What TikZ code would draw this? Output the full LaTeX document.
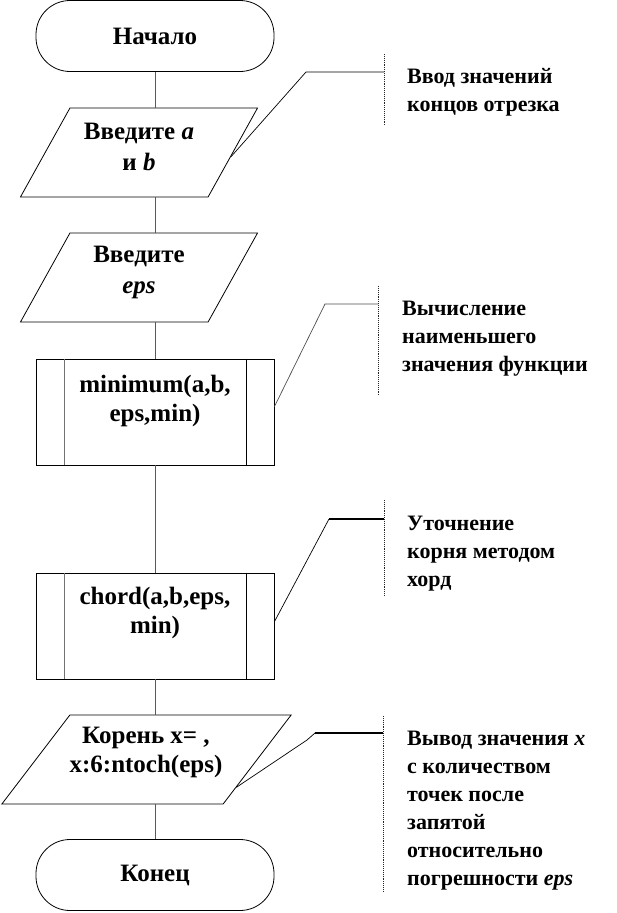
\documentclass[tikz,border=0pt]{standalone}
\usepackage{fontspec}
\setmainfont{Liberation Serif}
\usetikzlibrary{shapes.geometric,calc}
\tikzset{
	blk/.style={draw, line width=0.8pt, font=\fontsize{25}{29}\selectfont\bfseries, align=center, inner sep=0pt},
	txt/.style={blk, draw=none},
	term/.style={blk, rounded corners=34pt, minimum width=238pt, minimum height=71pt},
	io/.style={blk, trapezium, trapezium stretches=true, minimum height=89pt},
	proc/.style={blk, rectangle, minimum width=238pt, minimum height=106pt},
	link/.style={line width=0.9pt, black!65},
	brace/.style={line width=0.9pt, black!85, densely dotted},
	lead/.style={line width=0.7pt},
	note/.style={font=\fontsize{22}{28}\selectfont\bfseries, align=left, anchor=base west, inner sep=0pt}
}
\begin{document}
\begin{tikzpicture}[x=1pt,y=-1pt]
		\useasboundingbox (0,0) rectangle (617,913);
		\coordinate (axis) at (155,0);
		% blocks
		\node[term] (start) at (155,36) {Начало};
		\node[io, trapezium left angle=62.7, trapezium right angle=117.3, minimum width=238pt] (inab) at (139,152.5) {\phantom{M}};
		\node[txt] (inabtxt) at (139,147) {Введите \textit{a}\\[2pt]и \textit{b}};
		\node[io, trapezium left angle=62.7, trapezium right angle=117.3, minimum width=238pt] (ineps) at (139,277.5) {\phantom{M}};
		\node[txt] (inepstxt) at (139,272) {Введите\\[2pt]\textit{eps}};
		\node[proc] (minbox) at (155,412) {};
		\node[txt] (mintxt) at (155,401) {minimum(a,b,\\eps,min)};
		\node[proc] (chordbox) at (155,626) {};
		\node[txt] (chordtxt) at (155,613) {chord(a,b,eps,\\min)};
		\node[io, trapezium left angle=57.4, trapezium right angle=122.6, minimum width=290pt] (outx) at (146.5,759.5) {\phantom{M}};
		\node[txt] (outxtxt) at (146,752) {Корень x= ,\\x:6:ntoch(eps)};
		\node[term] (finish) at (155,875) {Конец};
		\draw[black!55, line width=1.6pt] ([xshift=29pt]minbox.north west) -- ([xshift=29pt]minbox.south west);
		\draw[line width=1pt] ([xshift=-28pt]minbox.north east) -- ([xshift=-28pt]minbox.south east);
		\draw[black!55, line width=1.6pt] ([xshift=29pt]chordbox.north west) -- ([xshift=29pt]chordbox.south west);
		\draw[line width=1pt] ([xshift=-28pt]chordbox.north east) -- ([xshift=-28pt]chordbox.south east);
		% flow
		\draw[link] (start.south) -- (axis |- inab.north);
		\draw[link] (axis |- inab.south) -- (axis |- ineps.north);
		\draw[link] (axis |- ineps.south) -- (minbox.north);
		\draw[link] (minbox.south) -- (chordbox.north);
		\draw[link] (chordbox.south) -- (axis |- outx.north);
		\draw[link] (axis |- outx.south) -- (finish.north);
		% comments
		\draw[brace] (384,54) -- (384,126);
		\draw[lead] (384,72) -- (306,72) -- ($(inab.top right corner)!0.55!(inab.bottom right corner)$);
		\node[note] (note1) at (407,111) {Ввод значений\\концов отрезка};
		\draw[brace] (378,286) -- (378,395);
		\draw[lead, black!70] (378,304) -- (325,304) -- ($(minbox.north east)!0.45!(minbox.south east)$);
		\node[note] (note2) at (402,371) {Вычисление\\наименьшего\\значения функции};
		\draw[brace] (384,500) -- (384,596);
		\draw[line width=1.6pt] (384,519) -- (329,519);
		\draw[lead] (329,519) -- ($(chordbox.north east)!0.46!(chordbox.south east)$);
		\node[note] (note3) at (407,586) {Уточнение\\корня методом\\хорд};
		\draw[brace] (383,716) -- (383,892);
		\draw[line width=1.6pt] (383,733) -- (315,733);
		\draw[lead] (315,733) -- (307,740) -- ($(outx.top right corner)!0.81!(outx.bottom right corner)$);
		\node[note] (note4) at (407,885) {Вывод значения \textit{x}\\с количеством\\точек после\\запятой\\относительно\\погрешности \textit{eps}};
	\end{tikzpicture}
\end{document}
